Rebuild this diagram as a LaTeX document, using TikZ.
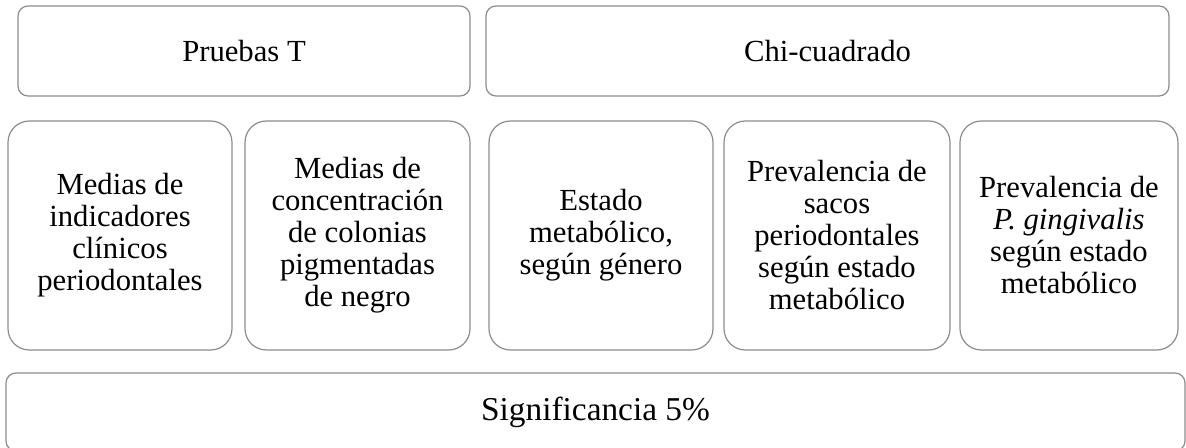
\documentclass[tikz,border=0pt]{standalone}
\usepackage{fontspec}
\setmainfont{Liberation Serif}
\tikzset{
  box/.style={draw=black!45, line width=0.9pt},
  lbl/.style={align=center, inner sep=0pt, font=\fontsize{23}{24}\selectfont},
}
\begin{document}
\begin{tikzpicture}[x=0.75pt, y=-0.75pt]
        \useasboundingbox (0,0) rectangle (1186,448);
        \clip (0,0) rectangle (1186,448);

        % Tests
        \draw[box, rounded corners=7.5pt] (18,6) rectangle (470,96) node[midway, lbl] (pruebas) {Pruebas T};
        \draw[box, rounded corners=7.5pt] (486,6) rectangle (1169,96) node[midway, lbl] (chi) {Chi-cuadrado};

        % Variables
        \draw[box, rounded corners=16pt] (8,121) rectangle (232,350) node[midway, lbl] (medias) {Medias de\\indicadores\\clínicos\\periodontales};
        \draw[box, rounded corners=16pt] (245,121) rectangle (470,350) node[midway, lbl] (colonias) {Medias de\\concentración\\de colonias\\pigmentadas\\de negro};
        \draw[box, rounded corners=16pt] (489,121) rectangle (713,350) node[midway, lbl] (estado) {Estado\\metabólico,\\según género};
        \draw[box, rounded corners=16pt] (724,121) rectangle (950,350) node[midway, lbl] (sacos) {Prevalencia de\\sacos\\periodontales\\según estado\\metabólico};
        \draw[box, rounded corners=16pt] (960,121) rectangle (1178,350) node[midway, lbl] (gingivalis) {Prevalencia de\\\textit{P. gingivalis}\\según estado\\metabólico};

        % Level
        \draw[box, rounded corners=7.5pt] (6,373) rectangle (1185,451) node[midway, lbl, font=\fontsize{25}{26}\selectfont] (signif) {Significancia 5\%};
\end{tikzpicture}
\end{document}
